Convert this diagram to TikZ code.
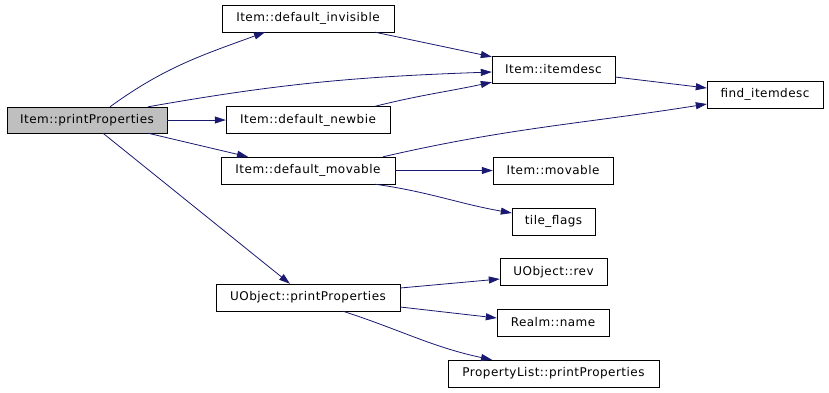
\documentclass[tikz,border=0pt]{standalone}
\usepackage{fontspec}
\setmainfont{DejaVu Sans}[LetterSpace=4]
\usetikzlibrary{arrows.meta}
\definecolor{edgeblue}{HTML}{191970}
\definecolor{rootgray}{HTML}{BFBFBF}

\begin{document}
\begin{tikzpicture}[x=1pt, y=-1pt,
  every node/.style={draw, rectangle, inner sep=0pt, minimum height=27pt, font=\fontsize{12}{14}\selectfont},
  call/.style={draw=edgeblue, line width=0.8pt, -{Triangle[length=11pt,width=7pt,fill=edgeblue]}}]
\useasboundingbox (0,0) rectangle (829,392);

\node[fill=rootgray, minimum width=160pt, minimum height=26pt] (pp) at (87,120) {Item::printProperties};
\node[minimum width=172pt] (inv) at (308,18.5) {Item::default\_invisible};
\node[minimum width=164pt] (newbie) at (308,120) {Item::default\_newbie};
\node[minimum width=174pt] (movd) at (308,170.5) {Item::default\_movable};
\node[minimum width=184pt] (uobj) at (308,297.5) {UObject::printProperties};
\node[minimum width=123pt] (itemdesc) at (553.5,69.5) {Item::itemdesc};
\node[minimum width=120pt] (movable) at (553,170.5) {Item::movable};
\node[minimum width=83pt] (tile) at (553.5,221.5) {tile\_flags};
\node[minimum width=107pt] (rev) at (553.5,272) {UObject::rev};
\node[minimum width=112pt] (realm) at (553,322.5) {Realm::name};
\node[minimum width=211pt] (plist) at (553.5,373.5) {PropertyList::printProperties};
\node[minimum width=116pt] (find) at (765,94.5) {find\_itemdesc};

% calls from Item::printProperties
\draw[call] ([xshift=23pt]pp.north) to[out=36,in=200] ([xshift=-43pt]inv.south);
\draw[call] ([xshift=61pt]pp.north) to[out=10,in=182] ([yshift=-2.5pt]itemdesc.west);
\draw[call] (pp.east) -- (newbie.west);
\draw[call] ([xshift=61pt]pp.south) -- ([xshift=-60pt]movd.north);
\draw[call] ([xshift=16pt]pp.south) -- ([xshift=-18pt]uobj.north);

\draw[call] ([xshift=67pt]inv.south) -- ([yshift=-1pt]itemdesc.north west);
\draw[call] ([xshift=67pt]newbie.north) to[out=14,in=192] ([yshift=1pt]itemdesc.south west);
\draw[call] ([yshift=-7.5pt]itemdesc.east) -- ([yshift=6.5pt]find.west);

\draw[call] ([xshift=75pt]movd.north) to[out=13,in=189] ([yshift=-9.5pt]find.west);
\draw[call] (movd.east) -- (movable.west);
\draw[call] ([xshift=67pt]movd.south) to[out=-8,in=170] ([yshift=8.5pt]tile.west);

\draw[call] ([yshift=9.5pt]uobj.east) -- ([yshift=-7pt]rev.west);
\draw[call] ([yshift=-9.5pt]uobj.east) -- ([yshift=4.5pt]realm.west);
\draw[call] ([xshift=35pt]uobj.south) to[out=-18,in=168] ([xshift=-61.5pt]plist.north);
\end{tikzpicture}
\end{document}
